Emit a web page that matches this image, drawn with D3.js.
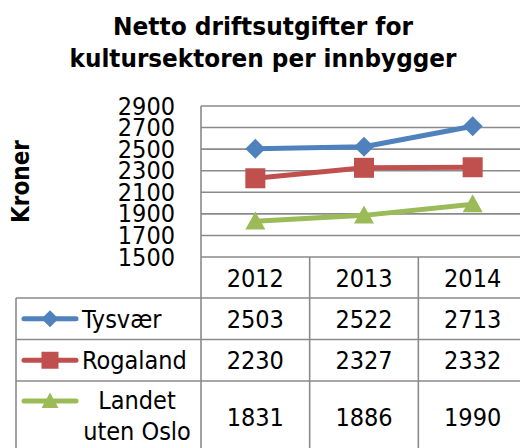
<!DOCTYPE html>
<html>
<head>
<meta charset="utf-8">
<script src="https://cdn.jsdelivr.net/npm/d3@7"></script>
<style>
  html, body { margin: 0; padding: 0; background: #fff; }
  svg { display: block; }
  text { font-family: 'DejaVu Sans Condensed', 'DejaVu Sans', sans-serif; font-stretch: condensed; fill: #000; }
</style>
</head>
<body>
<div id="chart"></div>
<script>
// data
const years = ['2012', '2013', '2014'];
const seriesNames = ['Tysvær', 'Rogaland', 'Landet uten Oslo'];
const tysvaer = [2503, 2522, 2713];
const rogaland = [2230, 2327, 2332];
const landet = [1831, 1886, 1990];
const yTicks = [1500, 1700, 1900, 2100, 2300, 2500, 2700, 2900];
const titleLines = ['Netto driftsutgifter for', 'kultursektoren per innbygger'];
const yLabel = 'Kroner';

const width = 520;
const height = 448;

// plot area and table layout
const plot = { left: 201, right: 527, top: 106, bottom: 257 };
const tableLeft = 16;
const legendColRight = 200.5;
const rowLines = [298, 339.5, 381, 453];
const gridColor = '#8a8a8a';

const series = [
  { name: seriesNames[0], label: ['Tysvær'], values: tysvaer, color: '#4f81bd', marker: 'diamond' },
  { name: seriesNames[1], label: ['Rogaland'], values: rogaland, color: '#c0504d', marker: 'square' },
  { name: seriesNames[2], label: ['Landet', 'uten Oslo'], values: landet, color: '#9bbb59', marker: 'triangle' }
];

const svg = d3.select('#chart').append('svg')
  .attr('width', width)
  .attr('height', height);

const x = d3.scaleBand().domain(years).range([plot.left, plot.right]);
const y = d3.scaleLinear().domain([1500, 2900]).range([plot.bottom, plot.top]);

// title
svg.append('g').selectAll('text')
  .data(titleLines)
  .enter()
  .append('text')
  .attr('x', 263)
  .attr('y', (d, i) => 35 + i * 32)
  .attr('text-anchor', 'middle')
  .attr('font-size', 25)
  .attr('font-weight', 'bold')
  .attr('textLength', (d, i) => [300, 387][i])
  .attr('lengthAdjust', 'spacingAndGlyphs')
  .text(d => d);

// y axis title
svg.append('text')
  .attr('transform', `translate(29,${(plot.top + plot.bottom) / 2}) rotate(-90)`)
  .attr('text-anchor', 'middle')
  .attr('font-size', 24)
  .attr('font-weight', 'bold')
  .attr('textLength', 83)
  .attr('lengthAdjust', 'spacingAndGlyphs')
  .text(yLabel);

// gridlines + tick labels
const yAxis = d3.axisLeft(y)
  .tickValues(yTicks)
  .tickSize(0)
  .tickPadding(26)
  .tickFormat(d3.format('d'));

const gy = svg.append('g')
  .attr('transform', `translate(${plot.left},0)`)
  .call(yAxis);
gy.select('.domain').remove();
gy.selectAll('text')
  .attr('font-size', 25)
  .attr('font-family', "'DejaVu Sans Condensed', 'DejaVu Sans', sans-serif")
  .attr('fill', '#000');

svg.append('g').selectAll('line')
  .data(yTicks)
  .enter()
  .append('line')
  .attr('x1', plot.left)
  .attr('x2', plot.right)
  .attr('y1', d => y(d))
  .attr('y2', d => y(d))
  .attr('stroke', gridColor)
  .attr('stroke-width', 1.6);

// table borders
const borders = svg.append('g').attr('stroke', gridColor).attr('stroke-width', 1.6);
borders.append('line')
  .attr('x1', plot.left).attr('x2', plot.left)
  .attr('y1', plot.top).attr('y2', height);
years.forEach((yr, i) => {
  if (i === 0) return;
  borders.append('line')
    .attr('x1', x(yr)).attr('x2', x(yr))
    .attr('y1', plot.bottom).attr('y2', height);
});
borders.append('line')
  .attr('x1', tableLeft).attr('x2', tableLeft)
  .attr('y1', rowLines[0]).attr('y2', height);
rowLines.slice(0, 3).forEach(ry => {
  borders.append('line')
    .attr('x1', tableLeft).attr('x2', plot.right)
    .attr('y1', ry).attr('y2', ry);
});

// year labels
svg.append('g').selectAll('text')
  .data(years)
  .enter()
  .append('text')
  .attr('x', d => x(d) + x.bandwidth() / 2)
  .attr('y', (plot.bottom + rowLines[0]) / 2)
  .attr('dy', '0.36em')
  .attr('text-anchor', 'middle')
  .attr('font-size', 25)
  .text(d => d);

function drawMarker(g, type, size, color) {
  const s = size / 2;
  if (type === 'diamond') {
    g.append('path').attr('d', `M0,${-s}L${s},0L0,${s}L${-s},0Z`).attr('fill', color);
  } else if (type === 'square') {
    g.append('rect').attr('x', -s).attr('y', -s).attr('width', size).attr('height', size).attr('fill', color);
  } else {
    const h = size * 0.9;
    g.append('path').attr('d', `M0,${-h * 0.55}L${s},${h * 0.45}L${-s},${h * 0.45}Z`).attr('fill', color);
  }
}

// lines + markers
const line = d3.line()
  .x((d, i) => x(years[i]) + x.bandwidth() / 2)
  .y(d => y(d));

series.forEach(s => {
  svg.append('path')
    .datum(s.values)
    .attr('d', line)
    .attr('fill', 'none')
    .attr('stroke', s.color)
    .attr('stroke-width', 5)
    .attr('stroke-linejoin', 'round')
    .attr('stroke-linecap', 'round');
  s.values.forEach((v, i) => {
    const g = svg.append('g')
      .attr('transform', `translate(${x(years[i]) + x.bandwidth() / 2},${y(v)})`);
    drawMarker(g, s.marker, 20, s.color);
  });
});

// table rows: legend key, name, values
series.forEach((s, r) => {
  const top = rowLines[r];
  const bottom = rowLines[r + 1];
  const cy = (top + bottom) / 2;
  const keyY = s.label.length > 1 ? top + 20 : cy;

  svg.append('line')
    .attr('x1', 24).attr('x2', 76)
    .attr('y1', keyY).attr('y2', keyY)
    .attr('stroke', s.color)
    .attr('stroke-width', 5)
    .attr('stroke-linecap', 'round');
  const kg = svg.append('g').attr('transform', `translate(50,${keyY})`);
  drawMarker(kg, s.marker, 17, s.color);

  if (s.label.length === 1) {
    svg.append('text')
      .attr('x', 82)
      .attr('y', cy)
      .attr('dy', '0.36em')
      .attr('font-size', 25)
      .text(s.label[0]);
  } else {
    svg.append('g').selectAll('text')
      .data(s.label)
      .enter()
      .append('text')
      .attr('x', 137)
      .attr('y', (d, i) => top + 28 + i * 31)
      .attr('text-anchor', 'middle')
      .attr('font-size', 25)
      .text(d => d);
  }

  svg.append('g').selectAll('text')
    .data(s.values)
    .enter()
    .append('text')
    .attr('x', (d, i) => x(years[i]) + x.bandwidth() / 2)
    .attr('y', cy)
    .attr('dy', '0.36em')
    .attr('text-anchor', 'middle')
    .attr('font-size', 25)
    .text(d => d);
});
</script>
</body>
</html>
